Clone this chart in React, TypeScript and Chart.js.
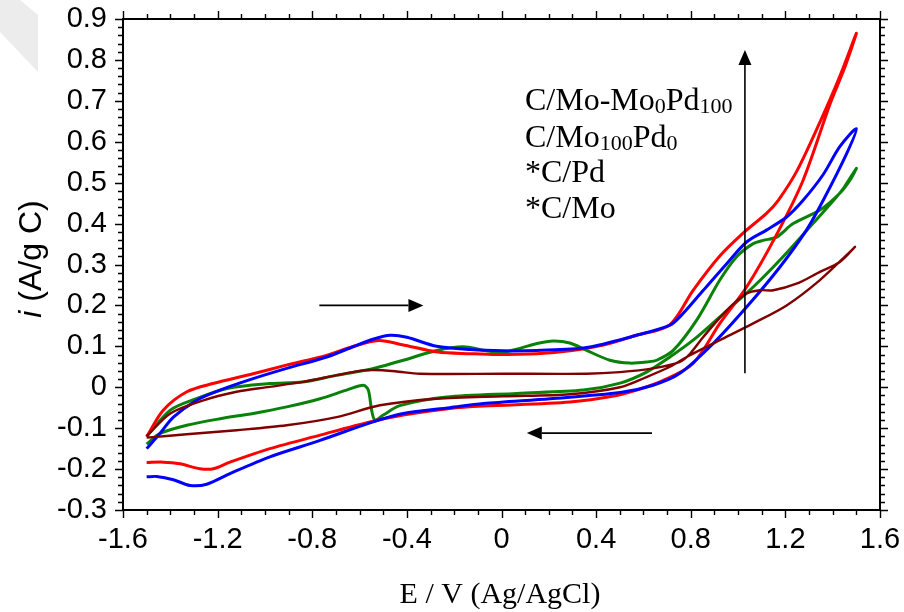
import React, { useEffect, useRef } from "react";
import { Chart, registerables } from "chart.js";

Chart.register(...registerables);

// ---- tick labels ----
const xTicks = [-1.6, -1.2, -0.8, -0.4, 0, 0.4, 0.8, 1.2, 1.6];
const yTicks = [-0.3, -0.2, -0.1, 0, 0.1, 0.2, 0.3, 0.4, 0.5, 0.6, 0.7, 0.8, 0.9];
const xTitle = "E / V (Ag/AgCl)";
const yTitleItalic = "i";
const yTitleRest = " (A/g C)";

// legend lines: [text, isSubscript]
const legendLines: [string, boolean][][] = [
  [["C/Mo-Mo", false], ["0", true], ["Pd", false], ["100", true]],
  [["C/Mo", false], ["100", true], ["Pd", false], ["0", true]],
  [["*C/Pd", false]],
  [["*C/Mo", false]],
];

// ---- series (E in V, i in A/g C) ----
const redE = [
  -1.5, -1.43, -1.33, -1.22, -1.05, -0.91, -0.74, -0.63, -0.52, -0.42, -0.27, -0.13, -0.02, 0.15, 0.29, 0.43, 0.57, 0.71,
  0.81, 0.92, 1.02, 1.12, 1.17, 1.25, 1.35, 1.43, 1.5,
  1.45, 1.39, 1.275, 1.16, 1.036, 0.923, 0.81, 0.684, 0.571, 0.487, 0.289, -0.077, -0.218, -0.415, -0.556, -0.767, -0.979,
  -1.148, -1.218, -1.275, -1.36, -1.43, -1.5,
];
const redI = [
  -0.121, -0.056, -0.011, 0.009, 0.033, 0.054, 0.078, 0.099, 0.114, 0.104, 0.086, 0.082, 0.08, 0.082, 0.089, 0.103, 0.127, 0.152,
  0.237, 0.319, 0.376, 0.425, 0.457, 0.53, 0.653, 0.76, 0.865,
  0.78, 0.694, 0.506, 0.37, 0.245, 0.156, 0.058, 0.017, -0.007, -0.02, -0.036, -0.046, -0.052, -0.068, -0.085, -0.117, -0.15,
  -0.183, -0.199, -0.199, -0.187, -0.183, -0.184,
];

const blueE = [
  -1.5, -1.444, -1.387, -1.289, -1.19, -1.05, -0.908, -0.739, -0.627, -0.54, -0.47, -0.4, -0.274, -0.133, 0.007, 0.148, 0.36, 0.571,
  0.712, 0.754, 0.853, 0.952, 1.036, 1.12, 1.205, 1.275, 1.36, 1.43, 1.5,
  1.459, 1.36, 1.289, 1.177, 1.036, 0.895, 0.754, 0.641, 0.501, 0.205, -0.077, -0.218, -0.415, -0.556, -0.767, -0.979, -1.148,
  -1.246, -1.317, -1.387, -1.458, -1.5,
];
const blueI = [
  -0.15, -0.113, -0.073, -0.032, -0.007, 0.021, 0.046, 0.074, 0.099, 0.118, 0.127, 0.122, 0.1, 0.092, 0.089, 0.09, 0.097, 0.127,
  0.152, 0.172, 0.237, 0.302, 0.355, 0.384, 0.416, 0.457, 0.52, 0.588, 0.632,
  0.571, 0.457, 0.384, 0.294, 0.196, 0.107, 0.034, 0.005, -0.013, -0.028, -0.04, -0.05, -0.064, -0.087, -0.13, -0.17, -0.211,
  -0.237, -0.24, -0.226, -0.218, -0.219,
];

const greenE = [
  -1.5, -1.4, -1.29, -1.16, -0.98, -0.84, -0.7, -0.57, -0.514, -0.415, -0.274, -0.162, -0.063, 0.007, 0.078, 0.15, 0.219, 0.289,
  0.36, 0.458, 0.543, 0.62, 0.656, 0.726, 0.825, 0.923, 0.994, 1.064, 1.106, 1.163, 1.233, 1.346, 1.43, 1.473, 1.5,
  1.45, 1.416, 1.304, 1.177, 1.064, 0.923, 0.81, 0.712, 0.613, 0.501, 0.346, 0.064, -0.232, -0.43, -0.5, -0.535, -0.549, -0.563,
  -0.584, -0.655, -0.767, -0.908, -1.049, -1.19, -1.331, -1.444, -1.5,
];
const greenI = [
  -0.12, -0.056, -0.028, -0.003, 0.009, 0.013, 0.029, 0.042, 0.05, 0.066, 0.09, 0.099, 0.089, 0.086, 0.095, 0.107, 0.113, 0.108,
  0.09, 0.066, 0.059, 0.062, 0.066, 0.09, 0.164, 0.262, 0.319, 0.351, 0.359, 0.367, 0.4, 0.433, 0.474, 0.506, 0.535,
  0.49, 0.465, 0.392, 0.311, 0.245, 0.172, 0.115, 0.074, 0.037, 0.01, -0.007, -0.015, -0.024, -0.045, -0.068, -0.08, -0.056, -0.007,
  0.005, -0.007, -0.028, -0.048, -0.064, -0.077, -0.093, -0.113, -0.139,
];

const maroonE = [
  -1.5, -1.4, -1.26, -1.12, -0.98, -0.84, -0.7, -0.6, -0.54, -0.45, -0.345, 0.007, 0.36, 0.5, 0.64, 0.754, 0.797, 0.853, 0.952,
  1.036, 1.092, 1.149, 1.247, 1.346, 1.43, 1.494,
  1.473, 1.346, 1.205, 1.064, 0.923, 0.783, 0.712, 0.613, 0.501, 0.289, 0.007, -0.274, -0.514, -0.697, -0.908, -1.12, -1.331, -1.5,
];
const maroonI = [
  -0.12, -0.064, -0.032, -0.011, 0.001, 0.013, 0.029, 0.04, 0.042, 0.039, 0.033, 0.033, 0.033, 0.037, 0.046, 0.062, 0.082, 0.123, 0.188,
  0.229, 0.237, 0.237, 0.253, 0.282, 0.306, 0.343,
  0.331, 0.262, 0.2, 0.156, 0.115, 0.074, 0.05, 0.025, 0.0, -0.017, -0.022, -0.028, -0.044, -0.073, -0.093, -0.105, -0.115, -0.123,
];

// ---- annotation arrows (data coordinates) ----
const arrowRight = { from: [-0.77, 0.2], to: [-0.33, 0.2] };
const arrowLeft = { from: [0.636, -0.112], to: [0.107, -0.112] };
const arrowUp = { from: [1.029, 0.034], to: [1.029, 0.824] };

const zip = (xs: number[], ys: number[]) => xs.map((x, k) => ({ x, y: ys[k] }));

function drawArrow(ctx: CanvasRenderingContext2D, x1: number, y1: number, x2: number, y2: number) {
  const headLen = 15;
  const headHalf = 6.5;
  const ang = Math.atan2(y2 - y1, x2 - x1);
  const bx = x2 - headLen * Math.cos(ang);
  const by = y2 - headLen * Math.sin(ang);
  ctx.save();
  ctx.strokeStyle = "#000";
  ctx.fillStyle = "#000";
  ctx.lineWidth = 1.6;
  ctx.beginPath();
  ctx.moveTo(x1, y1);
  ctx.lineTo(bx, by);
  ctx.stroke();
  ctx.beginPath();
  ctx.moveTo(x2, y2);
  ctx.lineTo(bx + headHalf * Math.sin(ang), by - headHalf * Math.cos(ang));
  ctx.lineTo(bx - headHalf * Math.sin(ang), by + headHalf * Math.cos(ang));
  ctx.closePath();
  ctx.fill();
  ctx.restore();
}

const decorPlugin = {
  id: "decor",
  beforeDraw(chart: any) {
    const ctx = chart.ctx as CanvasRenderingContext2D;
    ctx.save();
    ctx.fillStyle = "#fff";
    ctx.fillRect(0, 0, chart.width, chart.height);
    // faint watermark corner
    ctx.fillStyle = "#ececec";
    ctx.beginPath();
    ctx.moveTo(0, 0);
    ctx.lineTo(20, 0);
    ctx.lineTo(38, 15);
    ctx.lineTo(38, 72);
    ctx.lineTo(0, 32);
    ctx.closePath();
    ctx.fill();
    ctx.restore();
  },
  afterDraw(chart: any) {
    const ctx = chart.ctx as CanvasRenderingContext2D;
    const { left, right, top, bottom } = chart.chartArea;
    const xs = chart.scales.x;
    const ys = chart.scales.y;
    ctx.save();
    // frame
    ctx.strokeStyle = "#000";
    ctx.lineWidth = 2;
    ctx.strokeRect(left, top, right - left, bottom - top);
    // ticks
    ctx.lineWidth = 1.4;
    ctx.beginPath();
    for (let k = -16; k <= 16; k++) {
      const px = Math.round(xs.getPixelForValue(k / 10)) + 0.5;
      const len = k % 4 === 0 ? 8 : 5;
      ctx.moveTo(px, bottom);
      ctx.lineTo(px, bottom + len);
      ctx.moveTo(px, top);
      ctx.lineTo(px, top - len);
    }
    for (let k = -30; k <= 90; k += 2) {
      const py = Math.round(ys.getPixelForValue(k / 100)) + 0.5;
      const len = k % 10 === 0 ? 8 : 5;
      ctx.moveTo(left, py);
      ctx.lineTo(left - len, py);
      ctx.moveTo(right, py);
      ctx.lineTo(right + len, py);
    }
    ctx.stroke();

    // axis titles
    ctx.fillStyle = "#000";
    ctx.textBaseline = "alphabetic";
    ctx.textAlign = "center";
    ctx.font = '30px "Liberation Serif", "Times New Roman", serif';
    ctx.fillText(xTitle, 500, 603);

    ctx.save();
    ctx.translate(41, 259);
    ctx.rotate(-Math.PI / 2);
    const fItal = 'italic 32px "Liberation Sans", Arial, sans-serif';
    const fNorm = '32px "Liberation Sans", Arial, sans-serif';
    ctx.font = fItal;
    const w1 = ctx.measureText(yTitleItalic).width;
    ctx.font = fNorm;
    const w2 = ctx.measureText(yTitleRest).width;
    const x0 = -(w1 + w2) / 2;
    ctx.textAlign = "left";
    ctx.font = fItal;
    ctx.fillText(yTitleItalic, x0, 0);
    ctx.font = fNorm;
    ctx.fillText(yTitleRest, x0 + w1, 0);
    ctx.restore();

    // legend text
    ctx.textAlign = "left";
    const lx = left + 402;
    const baseY = [110, 146.5, 182, 218];
    legendLines.forEach((segs, li) => {
      let cx = lx;
      segs.forEach(([txt, sub]) => {
        ctx.font = sub
          ? '22px "Liberation Serif", "Times New Roman", serif'
          : '32px "Liberation Serif", "Times New Roman", serif';
        ctx.fillText(txt, cx, baseY[li] + (sub ? 3 : 0));
        cx += ctx.measureText(txt).width;
      });
    });

    // arrows
    const P = (p: number[]) => [xs.getPixelForValue(p[0]), ys.getPixelForValue(p[1])];
    for (const a of [arrowRight, arrowLeft, arrowUp]) {
      const [x1, y1] = P(a.from);
      const [x2, y2] = P(a.to);
      drawArrow(ctx, x1, y1, x2, y2);
    }
    ctx.restore();
  },
};

export default function App() {
  const ref = useRef<HTMLCanvasElement | null>(null);
  useEffect(() => {
    document.body.style.margin = "0";
    const canvas = ref.current;
    if (!canvas) return;
    const mk = (label: string, xsArr: number[], ysArr: number[], color: string, w: number) => ({
      label,
      data: zip(xsArr, ysArr),
      borderColor: color,
      backgroundColor: color,
      borderWidth: w,
      showLine: true,
      pointRadius: 0,
      tension: 0.3,
      fill: false,
    });
    const chart = new Chart(canvas, {
      type: "scatter",
      data: {
        datasets: [
          mk("*C/Mo", maroonE, maroonI, "#800000", 2.4),
          mk("C/Mo100Pd0", blueE, blueI, "#0000ff", 3),
          mk("C/Mo-Mo0Pd100", redE, redI, "#ff0000", 3),
          mk("*C/Pd", greenE, greenI, "#0a820a", 3),
        ],
      },
      options: {
        responsive: false,
        animation: false,
        devicePixelRatio: 1,
        layout: { padding: { left: 0, right: 24, top: 19, bottom: 0 } },
        plugins: { legend: { display: false }, tooltip: { enabled: false }, title: { display: false } },
        scales: {
          x: {
            type: "linear",
            min: -1.6,
            max: 1.6,
            afterBuildTicks: (s: any) => {
              s.ticks = xTicks.map((v) => ({ value: v }));
            },
            afterFit: (s: any) => {
              s.height = 102;
              s.paddingLeft = 0;
              s.paddingRight = 0;
            },
            grid: { display: false, drawTicks: false },
            border: { display: false },
            ticks: {
              autoSkip: false,
              maxRotation: 0,
              padding: 13,
              color: "#000",
              font: { family: '"Liberation Sans", Arial, sans-serif', size: 29 },
              callback: (v: any) => String(v),
            },
          },
          y: {
            type: "linear",
            min: -0.3,
            max: 0.9,
            afterBuildTicks: (s: any) => {
              s.ticks = yTicks.map((v) => ({ value: v }));
            },
            afterFit: (s: any) => {
              s.width = 123;
              s.paddingTop = 0;
              s.paddingBottom = 0;
            },
            grid: { display: false, drawTicks: false },
            border: { display: false },
            ticks: {
              autoSkip: false,
              padding: 16,
              color: "#000",
              font: { family: '"Liberation Sans", Arial, sans-serif', size: 29 },
              callback: (v: any) => String(v),
            },
          },
        },
      },
      plugins: [decorPlugin],
    } as any);
    return () => chart.destroy();
  }, []);
  return (
    <div style={{ width: 904, height: 612, position: "relative" }}>
      <canvas ref={ref} width={904} height={612} style={{ display: "block" }} />
    </div>
  );
}
